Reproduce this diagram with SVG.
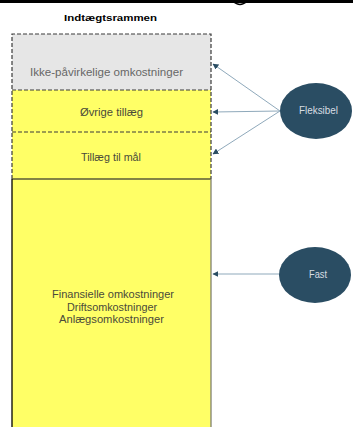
<svg xmlns="http://www.w3.org/2000/svg" width="353" height="427" viewBox="0 0 353 427">
<style>
.t{font-family:"Century Gothic","Liberation Sans",Arial,sans-serif;font-size:10.5px;text-anchor:middle;fill:#4a4a3a}
.el{fill:#2a4d63}
.et{font-family:"Century Gothic","Liberation Sans",Arial,sans-serif;font-size:10px;text-anchor:middle;fill:#d8dde2}
.con{stroke:#8fa9bb;stroke-width:1;fill:none;marker-end:url(#ah)}
.dash{stroke:#3a3a3a;stroke-width:1.2;stroke-dasharray:4,2;fill:none}
</style>
<defs>
<marker id="ah" viewBox="0 0 10 10" refX="9" refY="5" markerWidth="6" markerHeight="6" orient="auto" markerUnits="userSpaceOnUse">
<path d="M0,0 L10,5 L0,10 Z" fill="#2a4d63"/>
</marker>
</defs>
<rect width="353" height="427" fill="#ffffff"/>
<rect x="0" y="0" width="353" height="3" fill="#000"/>
<path d="M233,1 Q240,8 247,1" stroke="#000" stroke-width="1.5" fill="none"/>
<text x="110.5" y="21" textLength="93" lengthAdjust="spacingAndGlyphs" style="font-family:'Liberation Sans',Arial,sans-serif;font-size:9px;font-weight:bold;text-anchor:middle;fill:#000">Indtægtsrammen</text>
<g id="ikke">
<rect x="12" y="34" width="199" height="56" fill="#e6e6e6"/>
<text class="t" x="106.5" y="76" textLength="153" lengthAdjust="spacingAndGlyphs" style="fill:#666">Ikke-påvirkelige omkostninger</text>
</g>
<g id="ovrige">
<rect x="12" y="90" width="199" height="42" fill="#ffff66"/>
<text class="t" x="111.5" y="116" textLength="63" lengthAdjust="spacingAndGlyphs">Øvrige tillæg</text>
</g>
<g id="tillaeg">
<rect x="12" y="132" width="199" height="47" fill="#ffff66"/>
<text class="t" x="111" y="161" textLength="60" lengthAdjust="spacingAndGlyphs">Tillæg til mål</text>
</g>
<g id="fast-omk">
<rect x="12" y="179" width="199" height="250" fill="#ffff66"/>
<text class="t" x="113" y="298" textLength="122" lengthAdjust="spacingAndGlyphs">Finansielle omkostninger</text>
<text class="t" x="112" y="310.5" textLength="90" lengthAdjust="spacingAndGlyphs">Driftsomkostninger</text>
<text class="t" x="111.5" y="323" textLength="105" lengthAdjust="spacingAndGlyphs">Anlægsomkostninger</text>
</g>
<path class="dash" d="M12,179 V34 H211 V179"/>
<path class="dash" d="M12,90 H211 M12,132 H211"/>
<line x1="12" y1="179" x2="211" y2="179" stroke="#5a5a3a" stroke-width="1.3"/>
<line x1="12" y1="179" x2="12" y2="427" stroke="#000" stroke-width="1.3"/>
<line x1="211" y1="179" x2="211" y2="427" stroke="#808070" stroke-width="1.3"/>
<g id="connectors">
<line class="con" x1="280" y1="111" x2="213" y2="64"/>
<line class="con" x1="280" y1="111" x2="213" y2="112"/>
<line class="con" x1="280" y1="111" x2="213" y2="154"/>
<line class="con" x1="279" y1="274" x2="213" y2="274"/>
</g>
<g id="fleksibel">
<ellipse class="el" cx="316" cy="111" rx="36" ry="28"/>
<text class="et" x="318.5" y="114" textLength="39" lengthAdjust="spacingAndGlyphs">Fleksibel</text>
</g>
<g id="fast">
<ellipse class="el" cx="315" cy="275" rx="36" ry="28"/>
<text class="et" x="318" y="278" textLength="18" lengthAdjust="spacingAndGlyphs">Fast</text>
</g>
</svg>
